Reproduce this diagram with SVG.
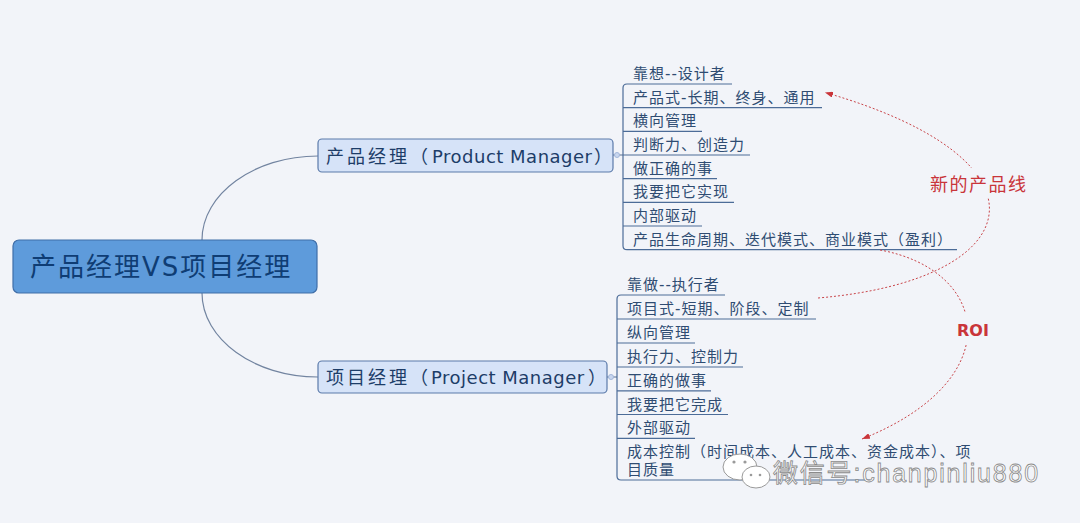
<svg xmlns="http://www.w3.org/2000/svg" width="1080" height="523" viewBox="0 0 1080 523">
<defs>
<style>
.bg{fill:#f2f4f9}
.item{font-family:"DejaVu Sans","Noto Sans CJK SC",sans-serif;font-size:15px;letter-spacing:1px;fill:#2f4c72}
.ul{fill:none;stroke:#4c6c98;stroke-width:1.2}
.branch{fill:none;stroke:#7284a0;stroke-width:1.2}
.node{fill:#d6e3f8;stroke:#5b7aaa;stroke-width:1.2}
.ntext{font-family:"DejaVu Sans","Noto Sans CJK SC",sans-serif;font-size:18px;fill:#1d3d68}
.rel{fill:none;stroke:#c9454a;stroke-width:1;stroke-dasharray:2 2}
.rlabel{font-family:"DejaVu Sans","Noto Sans CJK SC",sans-serif;fill:#c9353a}
.dot{fill:#c9d7ef;stroke:#a3b7da;stroke-width:1}
.wm{font-family:"Liberation Sans","Noto Sans CJK SC",sans-serif;font-size:25px;fill:#ffffff;stroke:#8a8a8a;stroke-width:0.8}
</style>
<marker id="arr" viewBox="0 0 8 6" refX="8" refY="3" markerWidth="8" markerHeight="6" orient="auto" markerUnits="userSpaceOnUse">
<path d="M0,0 L8,3 L0,6 z" fill="#c9353a"/>
</marker>
</defs>
<rect class="bg" x="0" y="0" width="1080" height="523"/>

<g id="connectors">
<path class="branch" d="M202,240 C202,194 254,156 318,156"/>
<path class="branch" d="M202,293 C202,339 254,377 318,377"/>
<line class="branch" x1="613" y1="155" x2="623" y2="155"/>
<circle class="dot" cx="617" cy="155" r="2.5"/>
<line class="branch" x1="607" y1="377" x2="617" y2="377"/>
<circle class="dot" cx="611" cy="377" r="2.5"/>
</g>

<g id="root">
<rect x="13" y="240" width="304" height="53" rx="6" fill="#5e9bdb" stroke="#3f6ea8" stroke-width="1.2"/>
<text x="30" y="276" font-family="DejaVu Sans,'Noto Sans CJK SC',sans-serif" font-size="26" letter-spacing="2" fill="#0f3d74">产品经理VS项目经理</text>
</g>

<g id="product-manager">
<rect class="node" x="318" y="139" width="295" height="33" rx="4"/>
<text class="ntext" y="162.5"><tspan x="326" letter-spacing="3">产品经理（</tspan><tspan x="432" letter-spacing="0.5">Product Manager</tspan><tspan x="594">）</tspan></text>
</g>

<g id="project-manager">
<rect class="node" x="318" y="361" width="289" height="32" rx="4"/>
<text class="ntext" y="384"><tspan x="326" letter-spacing="3">项目经理（</tspan><tspan x="431" letter-spacing="0.5">Project Manager</tspan><tspan x="588">）</tspan></text>
</g>

<g id="product-items">
<path class="ul" d="M732,84 H627 Q623,84 623,88 V245.7 Q623,249.7 627,249.7 H957"/>
<line class="ul" x1="623" y1="107.7" x2="822" y2="107.7"/>
<line class="ul" x1="623" y1="131.4" x2="702" y2="131.4"/>
<line class="ul" x1="623" y1="155" x2="750" y2="155"/>
<line class="ul" x1="623" y1="178.7" x2="717" y2="178.7"/>
<line class="ul" x1="623" y1="202.4" x2="734" y2="202.4"/>
<line class="ul" x1="623" y1="226" x2="702" y2="226"/>
<text class="item" x="633" y="79">靠想--设计者</text>
<text class="item" x="633" y="102.7">产品式-长期、终身、通用</text>
<text class="item" x="633" y="126.4">横向管理</text>
<text class="item" x="633" y="150">判断力、创造力</text>
<text class="item" x="633" y="173.7">做正确的事</text>
<text class="item" x="633" y="197.4">我要把它实现</text>
<text class="item" x="633" y="221">内部驱动</text>
<text class="item" x="633" y="244.7">产品生命周期、迭代模式、商业模式（盈利）</text>
</g>

<g id="project-items">
<path class="ul" d="M725,295 H621 Q617,295 617,299 V476 Q617,480 621,480 H870"/>
<line class="ul" x1="617" y1="319" x2="816" y2="319"/>
<line class="ul" x1="617" y1="343" x2="695" y2="343"/>
<line class="ul" x1="617" y1="367" x2="743" y2="367"/>
<line class="ul" x1="617" y1="390.8" x2="711" y2="390.8"/>
<line class="ul" x1="617" y1="414.5" x2="728" y2="414.5"/>
<line class="ul" x1="617" y1="438.3" x2="695" y2="438.3"/>
<text class="item" x="627" y="290">靠做--执行者</text>
<text class="item" x="627" y="314">项目式-短期、阶段、定制</text>
<text class="item" x="627" y="338">纵向管理</text>
<text class="item" x="627" y="362">执行力、控制力</text>
<text class="item" x="627" y="385.8">正确的做事</text>
<text class="item" x="627" y="409.5">我要把它完成</text>
<text class="item" x="627" y="433.3">外部驱动</text>
<text class="item" x="627" y="457" letter-spacing="1.8">成本控制（时间成本、人工成本、资金成本）、项</text>
<text class="item" x="627" y="475">目质量</text>
</g>

<g id="relationships">
<path class="rel" d="M818,298 C1030,280 1060,160 825,92.5" marker-end="url(#arr)"/>
<path class="rel" d="M880,250 C990,270 1010,380 862,439" marker-end="url(#arr)"/>
<rect class="bg" x="926" y="168" width="106" height="29"/>
<text class="rlabel" x="930" y="191" font-size="18" letter-spacing="1.5">新的产品线</text>
<rect class="bg" x="952" y="312" width="44" height="32"/>
<text class="rlabel" x="957" y="336" font-size="16" font-weight="bold">ROI</text>
</g>

<g id="watermark">
<ellipse cx="740" cy="467" rx="17" ry="13" fill="#ffffff" stroke="#9a9a9a" stroke-width="1"/>
<ellipse cx="756" cy="477" rx="14" ry="11" fill="#ffffff" stroke="#9a9a9a" stroke-width="1"/>
<circle cx="734" cy="462" r="1.6" fill="#9a9a9a"/>
<circle cx="745" cy="462" r="1.6" fill="#9a9a9a"/>
<circle cx="751" cy="475" r="1.3" fill="#9a9a9a"/>
<circle cx="760" cy="475" r="1.3" fill="#9a9a9a"/>
<text class="wm" x="773" y="482" letter-spacing="1.8">微信号:chanpinliu880</text>
</g>
</svg>
